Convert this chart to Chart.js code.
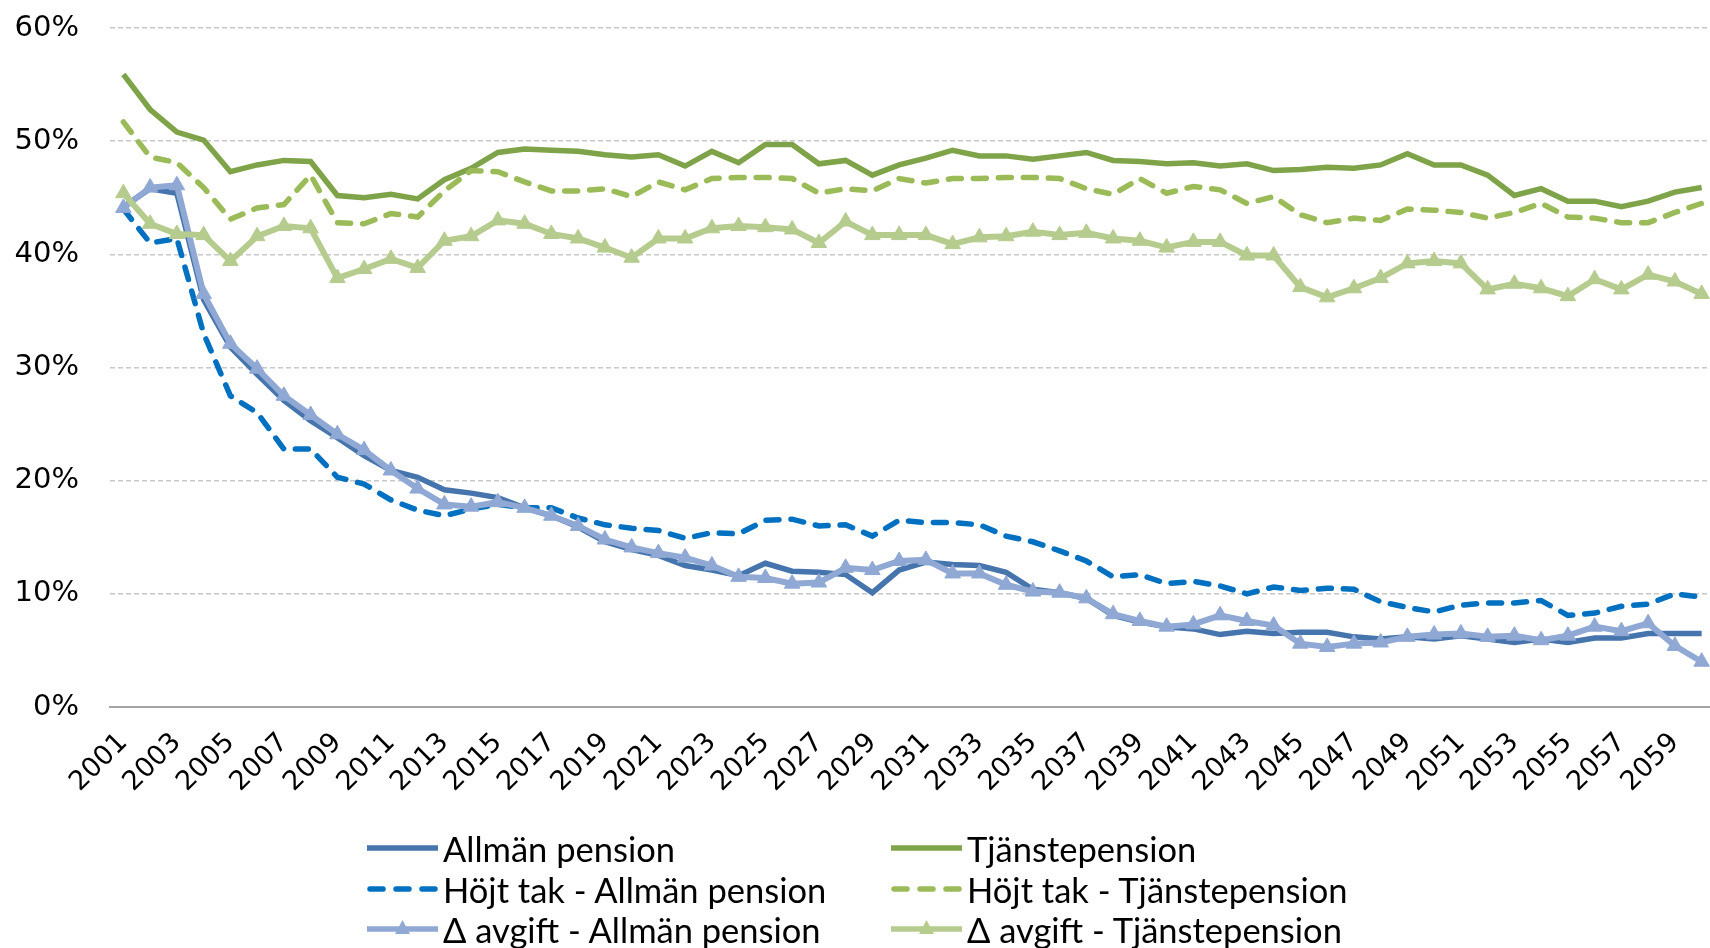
<!DOCTYPE html>
<html lang="sv">
<head>
<meta charset="utf-8">
<title>Ersättningsgrad</title>
<script src="https://cdn.jsdelivr.net/npm/chart.js@4.4.1/dist/chart.umd.min.js"></script>
<style>
    html, body { margin: 0; padding: 0; background: #fff; overflow: hidden; }
    #wrap { position: relative; width: 1725px; height: 800px; }
    #legend { position: absolute; left: 0; top: 0; width: 1710px; height: 948px; pointer-events: none; }
    .item { position: absolute; height: 40px; display: flex; align-items: center; font-family: Lato, sans-serif; font-size: 34.5px; color: #000; white-space: nowrap; }
    .item svg { margin-right: 5px; flex: none; }
</style>
</head>
<body>
<div id="wrap"><canvas id="chart"></canvas></div>
<div id="legend"></div>
<script>
const years = ['2001', '2002', '2003', '2004', '2005', '2006', '2007', '2008', '2009', '2010',
    '2011', '2012', '2013', '2014', '2015', '2016', '2017', '2018', '2019', '2020',
    '2021', '2022', '2023', '2024', '2025', '2026', '2027', '2028', '2029', '2030',
    '2031', '2032', '2033', '2034', '2035', '2036', '2037', '2038', '2039', '2040',
    '2041', '2042', '2043', '2044', '2045', '2046', '2047', '2048', '2049', '2050',
    '2051', '2052', '2053', '2054', '2055', '2056', '2057', '2058', '2059', '2060'];

const allman = [44.2, 45.8, 45.4, 36.0, 31.8, 29.4, 27.1, 25.3, 23.8, 22.2,
    20.9, 20.3, 19.2, 18.9, 18.5, 17.6, 16.9, 15.9, 14.6, 13.9,
    13.4, 12.5, 12.1, 11.6, 12.7, 12.0, 11.9, 11.7, 10.1, 12.1,
    12.8, 12.6, 12.5, 11.9, 10.4, 10.1, 9.6, 8.1, 7.5, 7.1,
    6.9, 6.4, 6.7, 6.5, 6.6, 6.6, 6.2, 6.0, 6.2, 6.0,
    6.3, 6.0, 5.7, 6.0, 5.7, 6.1, 6.1, 6.5, 6.5, 6.5];

const tjanste = [55.9, 52.8, 50.8, 50.1, 47.3, 47.9, 48.3, 48.2, 45.2, 45.0,
    45.3, 44.9, 46.6, 47.6, 49.0, 49.3, 49.2, 49.1, 48.8, 48.6,
    48.8, 47.8, 49.1, 48.1, 49.7, 49.7, 48.0, 48.3, 47.0, 47.9,
    48.5, 49.2, 48.7, 48.7, 48.4, 48.7, 49.0, 48.3, 48.2, 48.0,
    48.1, 47.8, 48.0, 47.4, 47.5, 47.7, 47.6, 47.9, 48.9, 47.9,
    47.9, 47.0, 45.2, 45.8, 44.7, 44.7, 44.2, 44.7, 45.5, 45.9];

const hojtAllman = [44.0, 41.0, 41.4, 33.0, 27.5, 26.0, 22.8, 22.8, 20.3, 19.7,
    18.3, 17.4, 16.9, 17.5, 17.9, 17.6, 17.6, 16.7, 16.1, 15.8,
    15.6, 14.9, 15.4, 15.3, 16.5, 16.6, 16.0, 16.1, 15.1, 16.5,
    16.3, 16.3, 16.1, 15.1, 14.6, 13.8, 12.9, 11.5, 11.7, 10.9,
    11.1, 10.7, 10.0, 10.6, 10.3, 10.5, 10.4, 9.3, 8.8, 8.4,
    9.0, 9.2, 9.2, 9.4, 8.1, 8.3, 8.9, 9.1, 10.0, 9.7];

const hojtTjanste = [51.7, 48.6, 48.1, 45.9, 43.1, 44.1, 44.4, 47.0, 42.8, 42.7,
    43.6, 43.3, 45.6, 47.4, 47.3, 46.4, 45.6, 45.6, 45.8, 45.1,
    46.4, 45.7, 46.7, 46.8, 46.8, 46.7, 45.4, 45.8, 45.6, 46.7,
    46.3, 46.7, 46.7, 46.8, 46.8, 46.7, 45.8, 45.3, 46.7, 45.4,
    46.0, 45.7, 44.5, 45.1, 43.5, 42.8, 43.2, 43.0, 44.0, 43.9,
    43.7, 43.2, 43.7, 44.5, 43.3, 43.2, 42.8, 42.8, 43.7, 44.5];

const deltaAllman = [44.1, 45.9, 46.1, 36.5, 32.1, 29.9, 27.5, 25.8, 24.1, 22.7,
    20.9, 19.3, 17.9, 17.7, 18.1, 17.6, 16.9, 16.0, 14.8, 14.1,
    13.6, 13.2, 12.5, 11.5, 11.4, 10.9, 11.0, 12.3, 12.1, 12.9,
    13.0, 11.8, 11.8, 10.8, 10.2, 10.1, 9.6, 8.2, 7.6, 7.1,
    7.3, 8.1, 7.6, 7.2, 5.6, 5.3, 5.6, 5.7, 6.2, 6.4,
    6.5, 6.2, 6.3, 5.9, 6.3, 7.1, 6.7, 7.4, 5.4, 4.0];

const deltaTjanste = [45.4, 42.7, 41.8, 41.7, 39.4, 41.6, 42.5, 42.3, 37.9, 38.7,
    39.6, 38.8, 41.2, 41.6, 43.0, 42.7, 41.8, 41.4, 40.6, 39.7,
    41.4, 41.4, 42.3, 42.5, 42.4, 42.2, 41.0, 42.9, 41.7, 41.7,
    41.7, 40.9, 41.5, 41.6, 42.0, 41.7, 41.9, 41.4, 41.2, 40.6,
    41.1, 41.1, 39.9, 39.9, 37.1, 36.2, 37.0, 37.9, 39.2, 39.4,
    39.2, 36.9, 37.4, 37.0, 36.3, 37.8, 36.9, 38.2, 37.6, 36.5];

const yTicks = [0, 10, 20, 30, 40, 50, 60];

const LINE_DASH = [13, 12];

function series(label, data, color, opts) {
    return Object.assign({
        label: label,
        data: data,
        borderColor: color,
        backgroundColor: color,
        borderWidth: 5.5,
        pointRadius: 0,
        pointHoverRadius: 0,
        tension: 0,
        fill: false
    }, opts || {});
}

const triangle = {
    borderWidth: 6,
    pointStyle: 'triangle',
    pointRadius: 9,
    pointBorderWidth: 1
};

const datasets = [
    series('Allmän pension', allman, '#4674AC'),
    series('Tjänstepension', tjanste, '#7FA349'),
    series('Höjt tak - Allmän pension', hojtAllman, '#0070C0', { borderDash: LINE_DASH, borderCapStyle: 'round' }),
    series('Höjt tak - Tjänstepension', hojtTjanste, '#9BBB59', { borderDash: LINE_DASH, borderCapStyle: 'round' }),
    series('Δ avgift - Allmän pension', deltaAllman, '#8FA8D4', triangle),
    series('Δ avgift - Tjänstepension', deltaTjanste, '#B5CC8E', triangle)
];
// later series sit on top, like in the original
datasets.forEach((d, i) => { d.order = datasets.length - i; });

const chart = new Chart(document.getElementById('chart'), {
    type: 'line',
    data: { labels: years, datasets: datasets },
    options: {
        responsive: true,
        maintainAspectRatio: false,
        animation: false,
        layout: { padding: { top: 28, left: 0, right: 0, bottom: 0 } },
        plugins: {
            legend: { display: false },
            tooltip: { enabled: false }
        },
        scales: {
            x: {
                offset: true,
                grid: { display: false, drawTicks: false },
                border: { display: true, color: '#A6A6A6', width: 2 },
                ticks: {
                    autoSkip: false,
                    minRotation: 45,
                    maxRotation: 45,
                    padding: 20,
                    color: '#000',
                    font: { family: 'DejaVu Sans', size: 27 },
                    callback: function(value, index) {
                        return index % 2 === 0 ? this.getLabelForValue(value) : '';
                    }
                },
                afterFit: function(scale) {
                    scale.height = 93;
                    // the last category runs off the right edge, as in the original
                    scale.paddingLeft = 0;
                    scale.paddingRight = 0;
                }
            },
            y: {
                min: 0,
                max: 60,
                afterBuildTicks: function(scale) {
                    scale.ticks = yTicks.map(v => ({ value: v }));
                },
                grid: { color: '#C8C8C8', lineWidth: 1.5, drawTicks: false },
                border: { display: false, dash: [5, 3] },
                ticks: {
                    padding: 31,
                    color: '#000',
                    font: { family: 'DejaVu Sans', size: 29 },
                    callback: function(value) { return value + '%'; }
                },
                afterFit: function(scale) {
                    scale.width = 110;
                    // keep the plot top/bottom set by the layout, not by label padding
                    scale.paddingTop = 0;
                    scale.paddingBottom = 0;
                }
            }
        }
    }
});

// legend in two columns, built from the datasets
const legendCols = [367, 891];
const legendRows = [848, 889, 929];
const legendEl = document.getElementById('legend');
chart.data.datasets.forEach((ds, i) => {
    const item = document.createElement('div');
    item.className = 'item';
    item.style.left = legendCols[i % 2] + 'px';
    item.style.top = (legendRows[Math.floor(i / 2)] - 20) + 'px';
    let svg = '<svg width="71" height="24" viewBox="0 0 71 24">';
    if (ds.borderDash) {
        svg += '<line x1="3" y1="12" x2="68" y2="12" stroke="' + ds.borderColor +
            '" stroke-width="5.5" stroke-dasharray="13 13" stroke-linecap="round"/>';
    } else {
        svg += '<line x1="0" y1="12" x2="71" y2="12" stroke="' + ds.borderColor + '" stroke-width="5.5"/>';
    }
    if (ds.pointStyle === 'triangle') {
        svg += '<polygon points="35.5,3 43,17 28,17" fill="' + ds.borderColor + '"/>';
    }
    svg += '</svg>';
    item.innerHTML = svg + '<span>' + ds.label + '</span>';
    legendEl.appendChild(item);
});
</script>
</body>
</html>
